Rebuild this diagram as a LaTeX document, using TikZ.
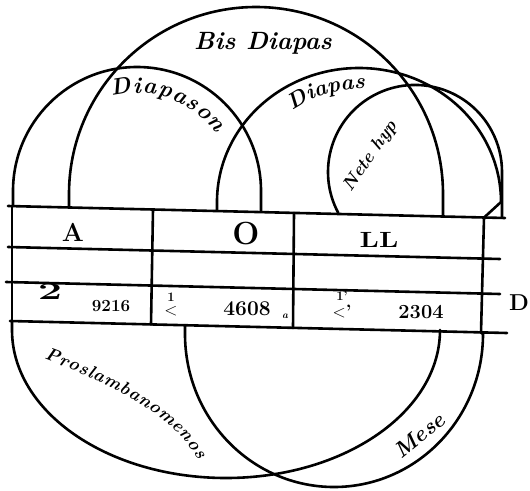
\documentclass[tikz,border=0pt]{standalone}
\usepackage{fontspec}
\usepackage{graphicx}
\usetikzlibrary{decorations.text}
\newcommand\diapLfont{\bfseries\itshape\fontsize{23}{25}\selectfont}
\newcommand\diapRfont{\bfseries\itshape\fontsize{22}{24}\selectfont}
\newcommand\prosfont{\bfseries\itshape\fontsize{18}{20}\selectfont}
\begin{document}
\begin{tikzpicture}[x=1pt,y=-1pt,
  ink/.style={draw=black, line width=2.6pt, line join=round, line cap=round},
  cellhead/.style={inner sep=0pt},
  lab/.style={inner sep=0pt, anchor=base},
  num/.style={inner sep=0pt},
]
\fill[white] (0,0) rectangle (530,490);
\useasboundingbox (0,0) rectangle (530,490);

% table corners
\coordinate (t0) at (8,206);   \coordinate (t1) at (505,218);
\coordinate (r0) at (8,247);   \coordinate (r1) at (500,259);
\coordinate (s0) at (6,282);   \coordinate (s1) at (500,294);
\coordinate (b0) at (10,321);  \coordinate (b1) at (507,333);
\coordinate (l0) at (12,206);  \coordinate (l1) at (12,321);
\coordinate (d0) at (153,209.5); \coordinate (d1) at (151,324.5);
\coordinate (e0) at (294,213);   \coordinate (e1) at (293,328);
\coordinate (f0) at (484,217.6); \coordinate (f1) at (481,332.6);

\draw[ink] (t0) -- (t1);
\draw[ink] (r0) -- (r1);
\draw[ink] (s0) -- (s1);
\draw[ink] (b0) -- (b1);
\draw[ink] (l0) -- (l1);
\draw[ink] (d0) -- (d1);
\draw[ink] (e0) -- (e1);
\draw[ink] (f0) -- (f1);

% circles above the table
\draw[ink] (69,207.3) -- (69,194) arc (180:360:187) -- (443,215.7);   % Bis Diapason
\draw[ink] (13,206) -- (13,191) arc (180:360:124) -- (261,211.6);    % Diapason left
\draw[ink] (217,210.6) -- (217,202) arc (180:360:142 and 134) -- (f0); % Diapason right
\draw[ink] (338.2,212.8) arc (152:360:87) -- (502,217.8);              % Nete hyp

% arcs below the table
\draw[ink] (l1) -- (12,330) arc (180:0:214 and 148) -- (440,331.5);    % Proslambanomenos
\draw[ink] (185,325.2) -- (185,334) arc (180:0:149 and 153) -- (f1);   % Mese

% labels of the circles
\node[lab, font=\bfseries\itshape\fontsize{25}{25}\selectfont] (bis) at (263,49) {Bis Diapas};
\path[decorate, decoration={text along path, text align={fit to path},
   text={|\diapLfont|Diapason}}] (137,191) ++(255:98) arc (255:324:98);
\path[decorate, decoration={text along path, text align={fit to path},
   text={|\diapRfont|Diapas}}] (359,202) ++(234:113) arc (234:273:113);
\node[lab, rotate=55, font=\bfseries\itshape\fontsize{18}{18}\selectfont] (nete) at (374,159) {Nete hyp};
\path[decorate, decoration={text along path, text align={fit to path},
   text={|\prosfont|Proslambanomenos}}] (44,359) .. controls (100,380) and (170,410) .. (198,460);
\node[lab, rotate=39, font=\bfseries\itshape\fontsize{22}{22}\selectfont] (mese) at (424,441) {Mese};

% table texts
\node[cellhead, font=\bfseries\fontsize{26}{26}\selectfont] (A) at (73,232) {A};
\node[cellhead, font=\bfseries\fontsize{32}{32}\selectfont] (O) at (246,234) {O};
\node[cellhead, font=\bfseries\fontsize{22}{22}\selectfont] (LL) at (379,240) {\scalebox{1.3}[1]{LL}};
\node[cellhead, font=\bfseries\fontsize{23}{23}\selectfont] (D) at (519,303) {D};

\node[num, font=\bfseries\fontsize{32}{32}\selectfont] (two) at (50,292) {\scalebox{1.35}[0.75]{2}};
\node[num, font=\bfseries\fontsize{17}{17}\selectfont] (n1) at (111,306) {\addfontfeatures{LetterSpace=10}9216};
\node[num, font=\bfseries\fontsize{13}{13}\selectfont] (h1) at (171,297) {1};
\node[num, font=\bfseries\fontsize{18}{18}\selectfont] (lt1) at (171,311) {$<$};
\node[num, font=\bfseries\fontsize{21}{21}\selectfont] (n2) at (247,309) {\addfontfeatures{LetterSpace=12}4608};
\node[num, font=\bfseries\itshape\fontsize{10}{10}\selectfont] (sa) at (285,316) {a};
\node[num, font=\bfseries\fontsize{13}{13}\selectfont] (h2) at (342,296) {1'};
\node[num, font=\bfseries\fontsize{18}{18}\selectfont] (lt2) at (342,311) {$<$'};
\node[num, font=\bfseries\fontsize{20}{20}\selectfont] (n3) at (421,312) {\addfontfeatures{LetterSpace=10}2304};
\end{tikzpicture}
\end{document}
